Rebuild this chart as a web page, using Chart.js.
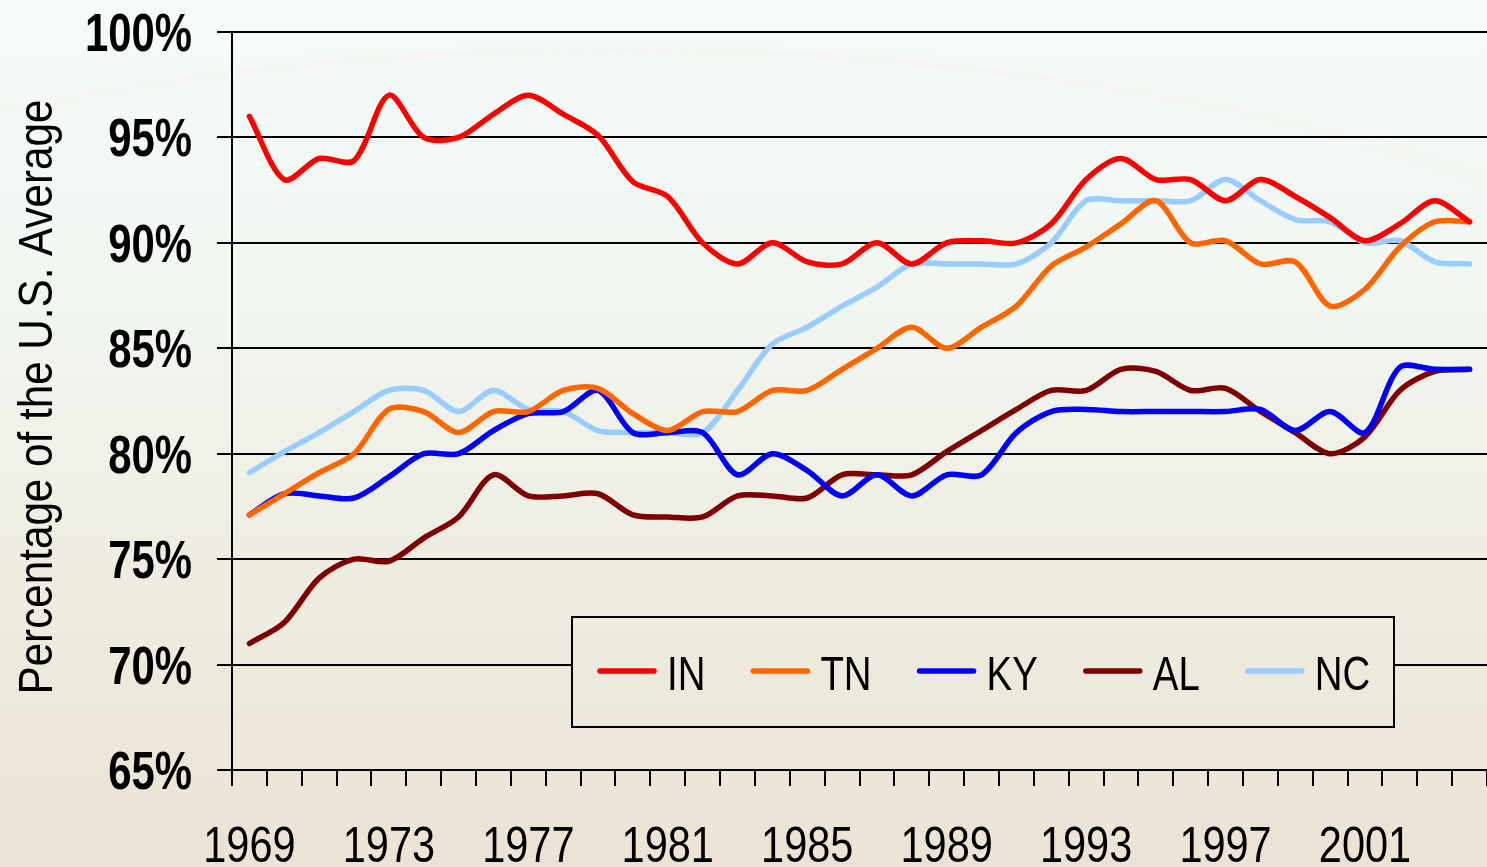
<!DOCTYPE html>
<html>
<head>
<meta charset="utf-8">
<script src="https://cdn.jsdelivr.net/npm/chart.js@4.4.0/dist/chart.umd.min.js"></script>
<style>
    html, body { margin: 0; padding: 0; background: #f0efe5; }
    #wrap { width: 1487px; height: 867px; }
</style>
</head>
<body>
<div id="wrap"><canvas id="income-chart" width="1487" height="867"></canvas></div>
<script>
// years on the x axis, 1969 to 2004
const years = [];
for (let y = 1969; y <= 2004; y++) years.push(String(y));

// y axis ticks (percent)
const yTicks = [65, 70, 75, 80, 85, 90, 95, 100];

// state income as percentage of the U.S. average
const inValues = [96.0, 93.0, 94.0, 93.9, 97.0, 95.0, 95.0, 96.1, 97.0, 96.1, 95.1, 92.9,
    92.2, 90.0, 89.0, 90.0, 89.1, 89.0, 90.0, 89.0, 90.0, 90.1, 90.0, 90.9,
    93.0, 94.0, 93.0, 93.0, 92.0, 93.0, 92.2, 91.2, 90.1, 90.9, 92.0, 91.0];
const tnValues = [77.1, 78.1, 79.1, 80.0, 82.1, 82.0, 81.0, 82.0, 82.0, 83.0, 83.1, 81.9,
    81.1, 82.0, 82.0, 83.0, 83.0, 84.0, 85.0, 86.0, 85.0, 86.0, 87.0, 88.9,
    89.8, 90.9, 92.0, 90.0, 90.1, 89.0, 89.1, 87.0, 87.8, 89.8, 91.0, 91.0];
const kyValues = [77.1, 78.1, 78.0, 77.9, 78.9, 80.0, 80.0, 81.1, 81.9, 82.0, 83.0, 81.0,
    81.0, 81.0, 79.0, 80.0, 79.2, 78.0, 79.0, 78.0, 79.0, 79.0, 81.0, 82.0,
    82.1, 82.0, 82.0, 82.0, 82.0, 82.1, 81.1, 82.0, 81.0, 84.1, 84.0, 84.0];
const alValues = [71.0, 72.0, 74.1, 75.0, 74.9, 76.0, 77.0, 79.0, 78.0, 78.0, 78.1, 77.1,
    77.0, 77.0, 78.0, 78.0, 77.9, 79.0, 79.0, 79.0, 80.1, 81.1, 82.1, 83.0,
    83.0, 84.0, 83.9, 83.0, 83.1, 82.0, 81.0, 80.0, 80.8, 83.0, 83.9, 84.0];
const ncValues = [79.1, 80.1, 81.0, 82.0, 83.0, 83.0, 82.0, 83.0, 82.1, 82.0, 81.1, 81.0,
    81.0, 81.0, 83.0, 85.2, 86.0, 87.0, 87.9, 89.0, 89.0, 89.0, 89.0, 90.0,
    92.0, 92.0, 92.0, 92.0, 93.0, 92.0, 91.1, 91.0, 90.0, 90.1, 89.1, 89.0];

const stateNames = ['IN', 'TN', 'KY', 'AL', 'NC'];
const stateColors = ['#ff0000', '#ff6600', '#0000ff', '#800000', '#99ccff'];
const seriesValues = [inValues, tnValues, kyValues, alValues, ncValues];

const yTitle = 'Percentage of the U.S. Average';
const sans = "'Liberation Sans', Arial, sans-serif";

function makeBackground(ctx) {
    const g = ctx.createLinearGradient(0, 0, 0, 867);
    g.addColorStop(0, '#f5fbfb');
    g.addColorStop(0.35, '#f1f6f0');
    g.addColorStop(0.65, '#efede2');
    g.addColorStop(1, '#ebe3d5');
    return g;
}

// draws text squeezed sideways, the original uses a narrow face
function narrowText(ctx, text, x, y, squeeze, align, angle) {
    ctx.save();
    ctx.translate(x, y);
    if (angle) ctx.rotate(angle);
    ctx.scale(squeeze, 1);
    ctx.textAlign = align;
    ctx.textBaseline = 'alphabetic';
    ctx.fillText(text, 0, 0);
    ctx.restore();
}

// page background with the faint arc
const backgroundPlugin = {
    id: 'background',
    beforeDraw(chart) {
        const ctx = chart.ctx;
        ctx.save();
        ctx.fillStyle = makeBackground(ctx);
        ctx.fillRect(0, 0, chart.width, chart.height);
        ctx.beginPath();
        ctx.ellipse(620, 650, 1400, 600, 0, Math.PI, 2 * Math.PI);
        ctx.strokeStyle = 'rgba(250, 242, 238, 0.45)';
        ctx.lineWidth = 6;
        ctx.shadowColor = 'rgba(250, 242, 238, 0.6)';
        ctx.shadowBlur = 8;
        ctx.stroke();
        ctx.restore();
    }
};

// axis labels and title, placed from the chart's scales
const axisTextPlugin = {
    id: 'axisText',
    afterDraw(chart) {
        const ctx = chart.ctx;
        const xs = chart.scales.x;
        const ys = chart.scales.y;
        ctx.save();
        ctx.fillStyle = '#000';

        ctx.font = '50px ' + sans;
        years.forEach((yr, i) => {
            if (i % 4 !== 0) return;
            narrowText(ctx, yr, xs.getPixelForValue(i), xs.top + 92, 0.83, 'center');
        });

        ctx.font = 'bold 53px ' + sans;
        yTicks.forEach(v => {
            narrowText(ctx, v + '%', ys.left + 192, ys.getPixelForValue(v) + 19, 0.79, 'right');
        });

        ctx.font = '49px ' + sans;
        const w = ctx.measureText(yTitle).width;
        const midY = (chart.chartArea.top + chart.chartArea.bottom) / 2;
        narrowText(ctx, yTitle, 52, midY - 4, 595 / w, 'center', -Math.PI / 2);
        ctx.restore();
    }
};

// boxed legend sitting inside the plot
const boxLegendPlugin = {
    id: 'boxLegend',
    afterDraw(chart) {
        const ctx = chart.ctx;
        const left = 572, top = 617, right = 1394, bottom = 727;
        ctx.save();
        ctx.fillStyle = makeBackground(ctx);
        ctx.fillRect(left, top, right - left, bottom - top);
        ctx.strokeStyle = '#000';
        ctx.lineWidth = 2;
        ctx.strokeRect(left, top, right - left, bottom - top);

        ctx.font = '48px ' + sans;
        let x = 598;
        chart.data.datasets.forEach(ds => {
            ctx.beginPath();
            ctx.moveTo(x + 2, 671);
            ctx.lineTo(x + 56, 671);
            ctx.strokeStyle = ds.borderColor;
            ctx.lineWidth = 5.5;
            ctx.lineCap = 'round';
            ctx.stroke();
            ctx.fillStyle = '#000';
            narrowText(ctx, ds.label, x + 69, 690, 0.8, 'left');
            x = x + 69 + ctx.measureText(ds.label).width * 0.8 + 46;
        });
        ctx.restore();
    }
};

const ctx = document.getElementById('income-chart').getContext('2d');
new Chart(ctx, {
    type: 'line',
    data: {
        labels: years,
        datasets: stateNames.map((name, i) => ({
            label: name,
            data: seriesValues[i],
            borderColor: stateColors[i],
            backgroundColor: stateColors[i],
            borderWidth: 5.5,
            pointRadius: 0,
            tension: 0.3,
            fill: false,
            borderCapStyle: 'round',
            borderJoinStyle: 'round'
        }))
    },
    options: {
        responsive: false,
        animation: false,
        layout: { padding: { top: 32, right: 0, bottom: 0, left: 0 } },
        plugins: {
            legend: { display: false },
            tooltip: { enabled: false }
        },
        scales: {
            x: {
                type: 'category',
                offset: true,
                grid: { offset: true, drawOnChartArea: false, drawTicks: true, tickLength: 16, color: '#000', lineWidth: 2 },
                border: { display: true, color: '#000', width: 2 },
                ticks: { display: false, autoSkip: false },
                afterFit: scale => { scale.height = 97; }
            },
            y: {
                min: 65,
                max: 100,
                grid: { color: '#000', lineWidth: 2, tickLength: 15, drawTicks: true },
                border: { display: true, color: '#000', width: 2 },
                ticks: { display: false, stepSize: 5 },
                afterFit: scale => { scale.width = 232; }
            }
        }
    },
    plugins: [backgroundPlugin, axisTextPlugin, boxLegendPlugin]
});
</script>
</body>
</html>
